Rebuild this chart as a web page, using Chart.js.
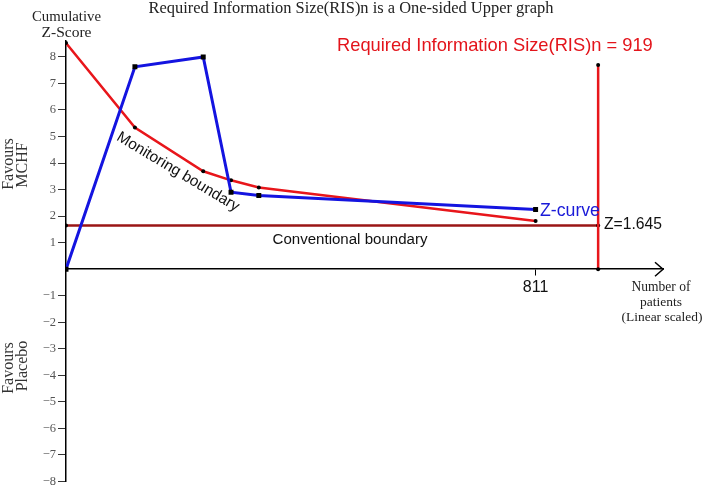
<!DOCTYPE html>
<html><head><meta charset="utf-8">
<script src="https://cdn.jsdelivr.net/npm/chart.js@4.4.0/dist/chart.umd.min.js"></script>
<style>html,body{margin:0;padding:0;background:#fff}#wrap{width:708px;height:491px;position:relative}</style>
</head><body><div id="wrap"><canvas id="c" width="708" height="491"></canvas></div>
<script>
// ---- data ----
const patients = [0, 119, 237, 285, 333, 811];
const zCurve = [0, 7.63, 8.0, 2.9, 2.78, 2.25];
const monitoringBoundary = [8.52, 5.34, 3.69, 3.35, 3.08, 1.82];
const conventionalX = [0, 919];
const conventionalZ = [1.645, 1.645];
const risX = [919, 919];
const risZ = [0, 7.7];
const xTicks = [811];
const yTicks = [-8, -7, -6, -5, -4, -3, -2, -1, 1, 2, 3, 4, 5, 6, 7, 8];
const titleText = 'Required Information Size(RIS)n is a One-sided Upper graph';
const risText = 'Required Information Size(RIS)n = 919';

const SANS = '"Liberation Sans", Arial, sans-serif';
const SERIF = '"Liberation Serif", "Times New Roman", serif';

const pts = (xs, ys) => xs.map((x, i) => ({x: x, y: ys[i]}));

function fitSize(ctx, text, family, target) {
  ctx.font = '100px ' + family;
  return 100 * target / ctx.measureText(text).width;
}
function txt(ctx, text, x, y, family, target, color, align) {
  const s = fitSize(ctx, text, family, target);
  ctx.font = s.toFixed(2) + 'px ' + family;
  ctx.fillStyle = color;
  ctx.textAlign = align || 'center';
  ctx.textBaseline = 'middle';
  ctx.fillText(text, x, y);
}
function vtxt(ctx, text, x, y, size, color) {
  ctx.save(); ctx.translate(x, y); ctx.rotate(-Math.PI / 2);
  ctx.font = size + 'px ' + SERIF; ctx.fillStyle = color;
  ctx.textAlign = 'center'; ctx.textBaseline = 'middle';
  ctx.fillText(text, 0, 0); ctx.restore();
}

const annot = {
  id: 'annot',
  afterDraw(chart) {
    const ctx = chart.ctx;
    const xs = chart.scales.x, ys = chart.scales.y;
    ctx.save();
    // arrow at end of x axis
    const ax = xs.right, ay = ys.getPixelForValue(0);
    ctx.strokeStyle = '#000'; ctx.lineWidth = 1.5;
    ctx.beginPath(); ctx.moveTo(ax - 8, ay - 7); ctx.lineTo(ax, ay); ctx.lineTo(ax - 8, ay + 7); ctx.stroke();

    txt(ctx, titleText, 351, 9, SERIF, 405, '#222');
    txt(ctx, 'Cumulative', 66.5, 17, SERIF, 69, '#222');
    txt(ctx, 'Z-Score', 66.5, 33, SERIF, 50, '#222');

    vtxt(ctx, 'Favours', 8.5, 164, 16, '#333');
    vtxt(ctx, 'MCHF', 23, 165, 16, '#333');
    vtxt(ctx, 'Favours', 8.5, 368, 16, '#333');
    vtxt(ctx, 'Placebo', 23, 366, 16, '#333');

    ctx.save(); ctx.translate(178, 172); ctx.rotate(31 * Math.PI / 180);
    txt(ctx, 'Monitoring boundary', 0, 0, SANS, 140, '#111'); ctx.restore();

    txt(ctx, 'Conventional boundary', 350, 240, SANS, 155, '#111');
    txt(ctx, 'Z-curve', 540, 211, SANS, 60, '#1a1ad8', 'left');
    txt(ctx, 'Z=1.645', 604, 225, SANS, 58, '#111', 'left');
    txt(ctx, risText, 337, 46, SANS, 316, '#e3141b', 'left');

    txt(ctx, 'Number of', 661, 287, SERIF, 59, '#222');
    txt(ctx, 'patients', 661, 302, SERIF, 42, '#222');
    txt(ctx, '(Linear scaled)', 662, 317, SERIF, 81, '#222');
    ctx.restore();
  }
};

new Chart(document.getElementById('c'), {
  type: 'line',
  data: {
    datasets: [
      {label: 'Z-curve', data: pts(patients, zCurve), borderColor: '#1414e0', borderWidth: 3,
       pointStyle: 'rect', pointRadius: 3.5, pointBackgroundColor: '#000', pointBorderColor: '#000', pointBorderWidth: 0, order: 0, tension: 0},
      {label: 'Monitoring boundary', data: pts(patients, monitoringBoundary), borderColor: '#e8161b', borderWidth: 2.5,
       pointRadius: 2, pointBackgroundColor: '#000', pointBorderColor: '#000', pointBorderWidth: 0, order: 1, tension: 0},
      {label: 'RIS', data: pts(risX, risZ), borderColor: '#e8161b', borderWidth: 2.5,
       pointRadius: 2, pointBackgroundColor: '#000', pointBorderColor: '#000', pointBorderWidth: 0, order: 2, tension: 0},
      {label: 'Conventional boundary', data: pts(conventionalX, conventionalZ), borderColor: '#9a1515', borderWidth: 2.5,
       pointRadius: 2, pointBackgroundColor: '#000', pointBorderColor: '#000', pointBorderWidth: 0, order: 3, tension: 0}
    ]
  },
  options: {
    responsive: false, animation: false, devicePixelRatio: 1,
    layout: {padding: {top: 41, right: 45, bottom: 8, left: 0}},
    plugins: {legend: {display: false}, tooltip: {enabled: false}},
    scales: {
      x: {
        type: 'linear', min: 0, max: 1031, position: {y: 0},
        border: {display: true, color: '#000', width: 1.5},
        grid: {drawOnChartArea: false, drawTicks: true, tickLength: 6, color: '#000'},
        ticks: {color: '#111', font: {family: SANS, size: 16}, padding: 3},
        afterBuildTicks: s => { s.ticks = xTicks.map(v => ({value: v})); }
      },
      y: {
        type: 'linear', min: -8, max: 8.6,
        border: {display: true, color: '#000', width: 1.5},
        grid: {drawOnChartArea: false, drawTicks: true, tickLength: 8, color: '#333'},
        ticks: {color: '#555', font: {family: SERIF, size: 12.5}, padding: 2,
                callback: v => v < 0 ? '\u2212' + (-v) : String(v)},
        afterBuildTicks: s => { s.ticks = yTicks.map(v => ({value: v})); },
        afterFit: s => { s.width = 66; }
      }
    }
  },
  plugins: [annot]
});
</script></body></html>
